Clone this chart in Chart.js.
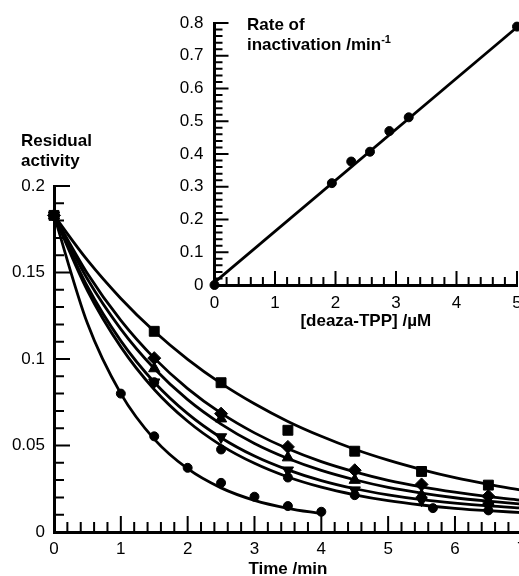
<!DOCTYPE html>
<html>
<head>
<meta charset="utf-8">
<script src="https://cdn.jsdelivr.net/npm/chart.js@4"></script>
<style>
  html, body { margin: 0; padding: 0; overflow: hidden; background: #fff; }
  body { position: relative; width: 519px; height: 576px; }
  canvas { position: absolute; top: 0; }
  .lab { position: absolute; font: bold 17px 'Liberation Sans', Arial, sans-serif; line-height: 20px; color: #000; white-space: nowrap; z-index: 2; }
  .sup { font-size: 11px; position: relative; top: -7px; }
</style>
</head>
<body>
<canvas id="mainChart" width="560" height="576" style="left:0"></canvas>
<canvas id="insetChart" width="380" height="330" style="left:150px"></canvas>
<div class="lab" style="left:21px;top:131px">Residual<br>activity</div>
<div class="lab" style="left:247px;top:15px">Rate of<br>inactivation /min<span class="sup">-1</span></div>
<script>
// measured points (time in min, residual activity)
const mainTimes = [0, 1.5, 2.5, 3.5, 4.5, 5.5, 6.5];
const squareVals = [0.183, 0.116, 0.0863, 0.0588, 0.0467, 0.0350, 0.0271];
const diamondVals = [0.183, 0.1005, 0.0684, 0.0492, 0.0357, 0.0275, 0.0207];
const triUpVals = [0.183, 0.0945, 0.0655, 0.0430, 0.0300, 0.0213, 0.0175];
const triDownVals = [0.183, 0.0866, 0.0549, 0.0357, 0.0242, 0.0184, 0.0150];
const circleTimes = [0, 1.5, 2.5, 3.5, 4.5, 5.67, 6.5];
const circleVals = [0.183, 0.0866, 0.0477, 0.0315, 0.0213, 0.0138, 0.0125];
const fastTimes = [0, 1, 1.5, 2, 2.5, 3, 3.5, 4];
const fastVals = [0.183, 0.080, 0.0553, 0.0371, 0.0284, 0.0204, 0.0150, 0.0117];

// fitted curves
const fitTimes = [0, 0.5, 1, 1.5, 2, 2.5, 3, 3.5, 4, 4.5, 5, 5.5, 6, 6.5, 7];
const squareFit = [0.183, 0.1571, 0.1350, 0.1160, 0.0998, 0.0859, 0.0741, 0.0639, 0.0553, 0.0478, 0.0415, 0.0361, 0.0314, 0.0275, 0.0241];
const diamondFit = [0.183, 0.1494, 0.1223, 0.1005, 0.0829, 0.0687, 0.0573, 0.0481, 0.0407, 0.0348, 0.0299, 0.0261, 0.0230, 0.0204, 0.0184];
const triUpFit = [0.183, 0.1462, 0.1173, 0.0945, 0.0765, 0.0624, 0.0512, 0.0425, 0.0356, 0.0302, 0.0258, 0.0225, 0.0198, 0.0178, 0.0161];
const triDownFit = [0.183, 0.1419, 0.1105, 0.0866, 0.0684, 0.0545, 0.0439, 0.0359, 0.0297, 0.0250, 0.0215, 0.0187, 0.0167, 0.0151, 0.0139];
const circleFit = [0.183, 0.1396, 0.1070, 0.0824, 0.0640, 0.0501, 0.0397, 0.0318, 0.0259, 0.0215, 0.0181, 0.0156, 0.0137, 0.0123, 0.0112];
const fastFitTimes = [0, 0.5, 1, 1.5, 2, 2.5, 3, 3.5, 4];
const fastFit = [0.183, 0.1206, 0.0800, 0.0537, 0.0366, 0.0255, 0.0183, 0.0137, 0.0106];

// inset: rate of inactivation vs [deaza-TPP]
const insetConc = [0, 1.94, 2.26, 2.57, 2.89, 3.21, 5.0];
const insetRate = [0, 0.311, 0.377, 0.407, 0.470, 0.512, 0.789];
const insetFitConc = [0, 5];
const insetFitRate = [0.008, 0.787];

const FONT = "'Liberation Sans', Arial, sans-serif";

function pts(xs, ys) {
    return xs.map((x, i) => ({ x: x, y: ys[i] }));
}

// tick marks pointing into the plot area
const innerTicks = {
    id: 'innerTicks',
    beforeDatasetsDraw(chart, args, opts) {
        const { ctx, chartArea } = chart;
        const xs = chart.scales.x, ys = chart.scales.y;
        ctx.save();
        ctx.strokeStyle = '#000';
        ctx.lineWidth = 2;
        ctx.beginPath();
        let n = Math.round((xs.max - xs.min) / opts.xMinor);
        for (let i = 0; i <= n; i++) {
            const v = xs.min + i * opts.xMinor;
            const r = v / opts.xMajor;
            const len = Math.abs(r - Math.round(r)) < 1e-6 ? opts.major : opts.minor;
            const px = xs.getPixelForValue(v);
            ctx.moveTo(px, chartArea.bottom);
            ctx.lineTo(px, chartArea.bottom - len);
        }
        n = Math.round((ys.max - ys.min) / opts.yMinor);
        for (let i = 0; i <= n; i++) {
            const v = ys.min + i * opts.yMinor;
            const r = v / opts.yMajor;
            const len = Math.abs(r - Math.round(r)) < 1e-6 ? opts.major : opts.minor;
            const py = ys.getPixelForValue(v);
            ctx.moveTo(chartArea.left, py);
            ctx.lineTo(chartArea.left + len, py);
        }
        ctx.stroke();
        ctx.restore();
    }
};

function curve(xs, ys) {
    return {
        data: pts(xs, ys),
        showLine: true,
        borderColor: '#000',
        borderWidth: 2.8,
        pointRadius: 0,
        cubicInterpolationMode: 'monotone',
        clip: false
    };
}

function marks(xs, ys, style, radius, rotation) {
    return {
        data: pts(xs, ys),
        pointStyle: style,
        pointRadius: radius,
        pointRotation: rotation || 0,
        backgroundColor: '#000',
        borderColor: '#000',
        pointBorderWidth: 1,
        clip: false
    };
}

function axis(min, max, step, dec, size, titleText, isX, pad, titlePad) {
    return {
        type: 'linear',
        min: min,
        max: max,
        grid: { display: false, drawTicks: false },
        border: { display: true, color: '#000', width: 3 },
        ticks: {
            stepSize: step,
            color: '#000',
            padding: pad,
            font: { family: FONT, size: 17 },
            callback: v => String(+v.toFixed(dec))
        },
        title: titleText ? {
            display: true,
            text: titleText,
            color: '#000',
            font: { family: FONT, size: 17, weight: 'bold', lineHeight: 1 },
            padding: { top: 0, bottom: titlePad }
        } : { display: false },
        afterFit: scale => {
            if (isX) scale.height = size; else scale.width = size;
        }
    };
}

new Chart(document.getElementById('mainChart'), {
    type: 'scatter',
    data: {
        datasets: [
            curve(fitTimes, squareFit),
            curve(fitTimes, diamondFit),
            curve(fitTimes, triUpFit),
            curve(fitTimes, triDownFit),
            curve(fitTimes, circleFit),
            curve(fastFitTimes, fastFit),
            marks(mainTimes, squareVals, 'rect', 7),
            marks(mainTimes, diamondVals, 'rectRot', 6.5),
            marks(mainTimes, triUpVals, 'triangle', 6.5),
            marks(mainTimes, triDownVals, 'triangle', 6.5, 180),
            marks(circleTimes, circleVals, 'circle', 4.5),
            marks(fastTimes, fastVals, 'circle', 4.5)
        ]
    },
    options: {
        responsive: false,
        animation: false,
        devicePixelRatio: 1,
        layout: { padding: { top: 186, right: 38.2, left: 0, bottom: 0 } },
        plugins: {
            legend: { display: false },
            tooltip: { enabled: false },
            innerTicks: { xMinor: 0.2, xMajor: 1, yMinor: 0.01, yMajor: 0.05, major: 16, minor: 10 }
        },
        scales: {
            x: axis(0, 7, 1, 0, 44, 'Time /min', true, 7, -2),
            y: axis(0, 0.2, 0.05, 2, 54, null, false, 9, 0)
        }
    },
    plugins: [innerTicks]
});

new Chart(document.getElementById('insetChart'), {
    type: 'scatter',
    data: {
        datasets: [
            curve(insetFitConc, insetFitRate),
            marks(insetConc, insetRate, 'circle', 4.5)
        ]
    },
    options: {
        responsive: false,
        animation: false,
        devicePixelRatio: 1,
        layout: { padding: { top: 23, right: 13, left: 0, bottom: 0 } },
        plugins: {
            legend: { display: false },
            tooltip: { enabled: false },
            innerTicks: { xMinor: 0.2, xMajor: 1, yMinor: 0.02, yMajor: 0.1, major: 14, minor: 8 }
        },
        scales: {
            x: axis(0, 5, 1, 0, 45, '[deaza-TPP] /µM', true, 8, 0),
            y: axis(0, 0.8, 0.1, 1, 64.5, null, false, 11, 0)
        }
    },
    plugins: [innerTicks]
});
</script>
</body>
</html>
